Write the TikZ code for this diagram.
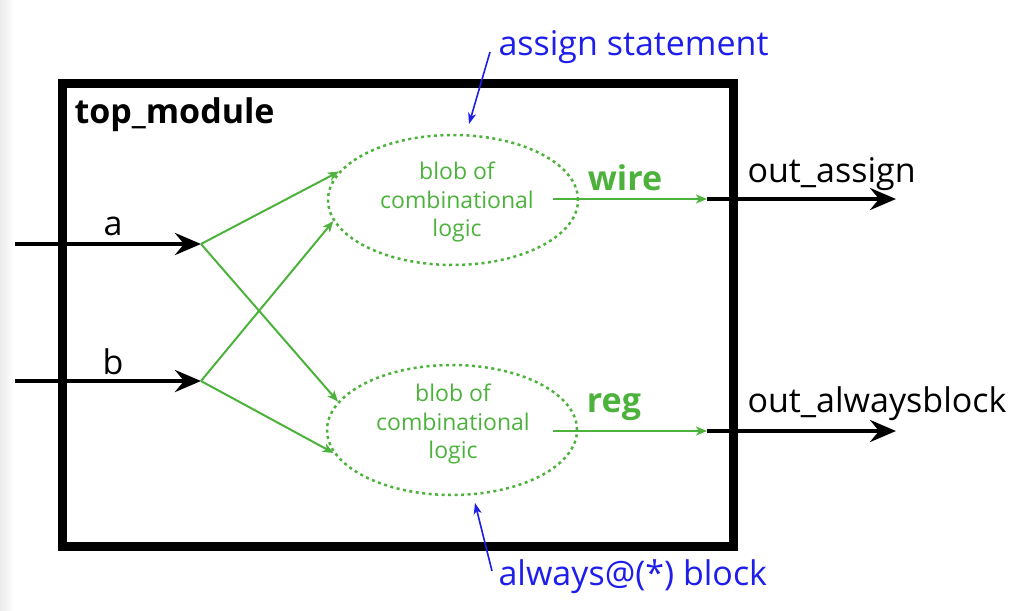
\documentclass[tikz,border=0pt]{standalone}
\usepackage{fontspec}
\setmainfont{Open Sans}
\usetikzlibrary{arrows.meta,shapes.geometric}
\definecolor{lgreen}{RGB}{76,178,60}
\definecolor{lblue}{RGB}{30,30,235}
\begin{document}
\begin{tikzpicture}[x=1pt,y=-1pt,
  bigtxt/.style={font=\fontsize{34}{40}\selectfont},
  boldtxt/.style={font=\fontsize{34}{40}\selectfont\bfseries},
  blobtxt/.style={font=\fontsize{23}{28.5}\selectfont, text=lgreen, align=center},
  blob/.style={draw=lgreen, ellipse, line width=2.5pt, dash pattern=on 3pt off 3.5pt, minimum width=250pt, minimum height=130pt, inner sep=0pt},
  blackarrow/.style={line width=4.5pt, -{Stealth[length=26pt,width=22pt,inset=9pt]}},
  greenarrow/.style={draw=lgreen, line width=2pt, -{Stealth[length=11pt,width=9pt,inset=3pt]}},
  bluearrow/.style={draw=lblue, line width=1.6pt, -{Stealth[length=11pt,width=8pt,inset=3pt]}},
  bluetxt/.style={font=\fontsize{34}{40}\selectfont, text=lblue},
]
\useasboundingbox (0,0) rectangle (1024,610);
\shade[left color=black!8, right color=white] (0,0) rectangle (14,610);
% module box
\node[draw, line width=9pt, minimum width=671pt, minimum height=463pt, inner sep=0pt] (box) at (397.5,314.5) {};
\node[boldtxt, anchor=west] (title) at (71,115) {top\_module};
% blobs
\node[blob] (e1) at (453,200) {};
\node[blob] (e2) at (452,430) {};
\node[blobtxt] (t1) at (457,202) {blob of\\combinational\\logic};
\node[blobtxt] (t2) at (453,424) {blob of\\combinational\\logic};
% inputs
\coordinate (ina) at (15,244);
\coordinate (ja) at (201,244);
\coordinate (inb) at (15,381);
\coordinate (jb) at (201,381);
\draw[blackarrow] (ina) -- (ja);
\draw[blackarrow] (inb) -- (jb);
\node[bigtxt] (la) at (113,226) {a};
\node[bigtxt] (lb) at (113,362) {b};
\draw[greenarrow] (ja) -- (e1.166.6);
\draw[greenarrow] (ja) -- (e2.166.8);
\draw[greenarrow] (jb) -- (e1.190.8);
\draw[greenarrow] (jb) -- (e2.191.3);
% outputs
\coordinate (s1) at (553,199);
\coordinate (o1) at (707,199);
\coordinate (p1) at (896,199);
\coordinate (s2) at (553,431);
\coordinate (o2) at (707,431);
\coordinate (p2) at (896,431);
\draw[greenarrow] (s1) -- (o1);
\draw[blackarrow] (o1) -- (p1);
\draw[greenarrow] (s2) -- (o2);
\draw[blackarrow] (o2) -- (p2);
\node[boldtxt, text=lgreen] (w) at (625,178) {wire};
\node[boldtxt, text=lgreen] (r) at (614,407) {reg};
\node[bigtxt, anchor=west] (oa) at (744,174) {out\_assign};
\node[bigtxt, anchor=west] (ob) at (744,404) {out\_alwaysblock};
% annotations
\node[bluetxt, anchor=west] (as) at (495,47) {assign statement};
\node[bluetxt, anchor=west] (ab) at (495,577) {always@(*) block};
\coordinate (asend) at (469,124);
\coordinate (abend) at (475,503);
\draw[bluearrow] (as.west) ++(-5,5) -- (asend);
\draw[bluearrow] (ab.west) ++(-3,-6) -- (abend);
\end{tikzpicture}
\end{document}
